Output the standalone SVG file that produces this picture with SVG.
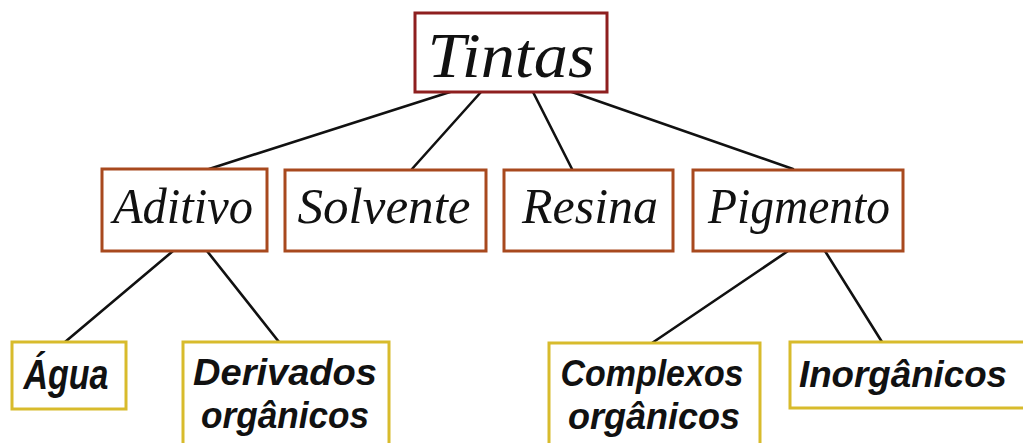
<svg xmlns="http://www.w3.org/2000/svg" width="1023" height="443" viewBox="0 0 1023 443">
<style>
.bg{fill:#ffffff}
.box{fill:#ffffff;stroke-width:3}
.root{stroke:#8e1f1f}
.mid{stroke:#a8491e}
.leaf{stroke:#d8bb2c}
.link{stroke:#111111;stroke-width:2.6;fill:none;stroke-linecap:round}
.t1{font-family:"Liberation Serif",serif;font-style:italic;font-size:64px;fill:#111111;text-anchor:middle}
.t2{font-family:"Liberation Serif",serif;font-style:italic;font-size:50px;fill:#111111;text-anchor:middle}
.t3{font-family:"Liberation Sans",sans-serif;font-style:italic;font-weight:bold;font-size:42px;fill:#111111;text-anchor:middle}
.t4{font-family:"Liberation Sans",sans-serif;font-style:italic;font-weight:bold;font-size:36px;fill:#111111;text-anchor:middle}
.t5{font-family:"Liberation Sans",sans-serif;font-style:italic;font-weight:bold;font-size:37px;fill:#111111;text-anchor:middle}
</style>
<rect class="bg" x="0" y="0" width="1023" height="443"/>
<g id="connectors">
<line class="link" x1="450" y1="92" x2="209" y2="169"/>
<line class="link" x1="481" y1="92" x2="412" y2="169"/>
<line class="link" x1="533" y1="92" x2="572" y2="169"/>
<line class="link" x1="572" y1="92" x2="793" y2="169"/>
<line class="link" x1="173" y1="251" x2="65" y2="342"/>
<line class="link" x1="207" y1="251" x2="279" y2="342"/>
<line class="link" x1="788" y1="251" x2="652" y2="343"/>
<line class="link" x1="825" y1="251" x2="882" y2="342"/>
</g>
<g id="tintas">
<rect class="box root" x="415" y="13" width="192" height="79"/>
<text class="t1" x="511" y="77" textLength="167" lengthAdjust="spacingAndGlyphs">Tintas</text>
</g>
<g id="aditivo">
<rect class="box mid" x="102" y="169" width="165" height="82"/>
<text class="t2" x="183" y="223" textLength="140" lengthAdjust="spacingAndGlyphs">Aditivo</text>
</g>
<g id="solvente">
<rect class="box mid" x="285" y="170" width="201" height="81"/>
<text class="t2" x="384" y="223" textLength="173" lengthAdjust="spacingAndGlyphs">Solvente</text>
</g>
<g id="resina">
<rect class="box mid" x="504" y="170" width="169" height="81"/>
<text class="t2" x="590" y="223" textLength="136" lengthAdjust="spacingAndGlyphs">Resina</text>
</g>
<g id="pigmento">
<rect class="box mid" x="693" y="170" width="210" height="81"/>
<text class="t2" x="799" y="223" textLength="182" lengthAdjust="spacingAndGlyphs">Pigmento</text>
</g>
<g id="agua">
<rect class="box leaf" x="12" y="342" width="114" height="67"/>
<text class="t3" x="66" y="389" textLength="85" lengthAdjust="spacingAndGlyphs">Água</text>
</g>
<g id="derivados">
<rect class="box leaf" x="183" y="342" width="206" height="110"/>
<text class="t4" x="285" y="385" textLength="184" lengthAdjust="spacingAndGlyphs">Derivados</text>
<text class="t4" x="285" y="428" textLength="168" lengthAdjust="spacingAndGlyphs">orgânicos</text>
</g>
<g id="complexos">
<rect class="box leaf" x="549" y="343" width="211" height="110"/>
<text class="t4" x="652" y="386" textLength="183" lengthAdjust="spacingAndGlyphs">Complexos</text>
<text class="t4" x="654" y="429" textLength="172" lengthAdjust="spacingAndGlyphs">orgânicos</text>
</g>
<g id="inorganicos">
<path class="box leaf" d="M1023,342 H790 V408 H1023"/>
<text class="t5" x="903" y="387" textLength="208" lengthAdjust="spacingAndGlyphs">Inorgânicos</text>
</g>
</svg>
